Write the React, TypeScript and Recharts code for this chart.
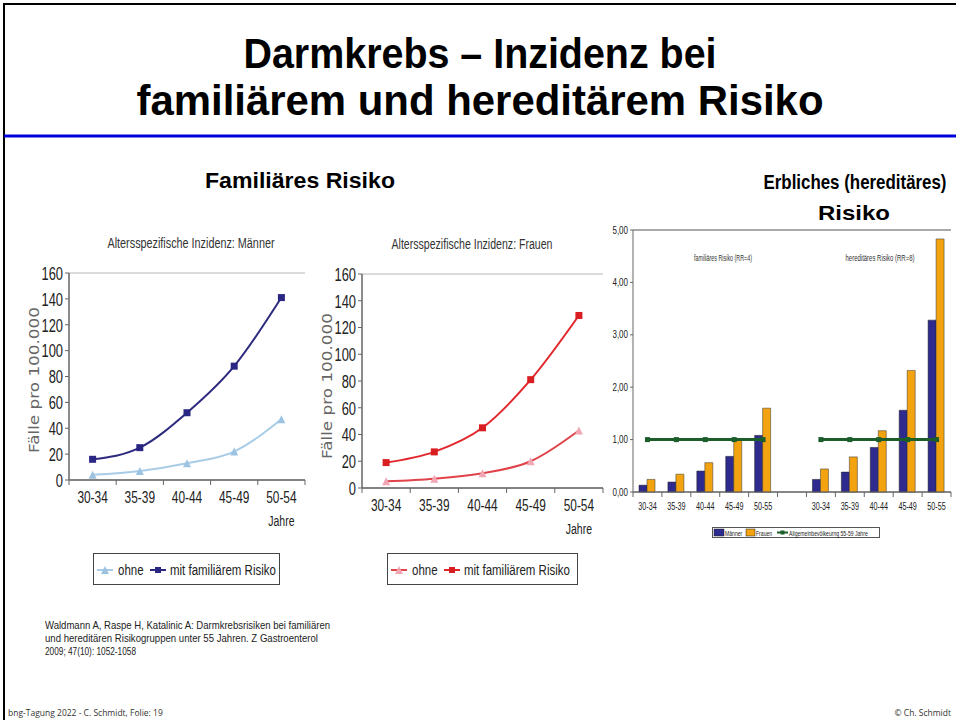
import React from "react";
import { ComposedChart, Line, Bar, XAxis, YAxis, CartesianGrid, Legend } from "recharts";

// Altersspezifische Inzidenz (Fälle pro 100.000)
const ageGroups = ["30-34", "35-39", "40-44", "45-49", "50-54"];
const menWithout = [4, 7, 13, 22, 47];
const menFamilial = [16, 25, 52, 88, 141];
const womenWithout = [5, 7, 11, 20, 43];
const womenFamilial = [19, 27, 45, 81, 129];
const incidenceTicks = [0, 20, 40, 60, 80, 100, 120, 140, 160];

// Erbliches Risiko: familiär (RR=4) | Lücke | hereditär (RR=8)
const riskGroups = ["30-34", "35-39", "40-44", "45-49", "50-55", "", "30-34", "35-39", "40-44", "45-49", "50-55"];
const riskMen = [0.13, 0.19, 0.4, 0.68, 1.08, null, 0.24, 0.38, 0.85, 1.56, 3.28];
const riskWomen = [0.24, 0.34, 0.56, 1.0, 1.6, null, 0.44, 0.67, 1.17, 2.32, 4.83];
const generalPopulation = [1, 1, 1, 1, 1, null, 1, 1, 1, 1, 1];
const riskTicks = [0, 1, 2, 3, 4, 5];

const menData = ageGroups.map((age, i) => ({ age, ohne: menWithout[i], mit: menFamilial[i] }));
const womenData = ageGroups.map((age, i) => ({ age, ohne: womenWithout[i], mit: womenFamilial[i] }));
const riskData = riskGroups.map((_, i) => ({
  slot: i,
  men: riskMen[i],
  women: riskWomen[i],
  allg: generalPopulation[i],
}));

const ARIAL = '"Liberation Sans", Arial, sans-serif';

// condensed text (the original uses a narrow Myriad-like face)
function NText({ x, y, sx = 0.7, children, ...rest }: any) {
  return (
    <text transform={`translate(${x},${y}) scale(${sx},1)`} fontFamily={ARIAL} {...rest}>
      {children}
    </text>
  );
}

const square = (color: string, size: number) => (p: any) =>
  p.cx == null || p.value == null || p.cy == null ? (
    <g key={`s-${p.index}`} />
  ) : (
    <rect key={`s-${p.index}`} x={p.cx - size / 2} y={p.cy - size / 2} width={size} height={size} fill={color} />
  );

const triangle = (color: string, size: number) => (p: any) =>
  p.cx == null || p.value == null ? (
    <g key={`t-${p.index}`} />
  ) : (
    <polygon
      key={`t-${p.index}`}
      points={`${p.cx},${p.cy - size / 2} ${p.cx - size / 2},${p.cy + size / 2} ${p.cx + size / 2},${p.cy + size / 2}`}
      fill={color}
    />
  );

function SlotTick(props: any) {
  const { x, y, payload, index, band, count, fontSize, sx, dy, labels, note, stroke } = props;
  const label = labels ? labels[payload.value] : payload.value;
  return (
    <g>
      <line x1={x - band / 2} y1={y} x2={x - band / 2} y2={y + 5} stroke={stroke} />
      {index === count - 1 && <line x1={x + band / 2} y1={y} x2={x + band / 2} y2={y + 5} stroke={stroke} />}
      <NText x={x} y={y + dy} sx={sx} textAnchor="middle" fontSize={fontSize} fill="#222">
        {label}
      </NText>
      {note && index === count - 1 && (
        <NText x={x} y={y + dy + 23} sx={sx} textAnchor="middle" fontSize={15} fill="#222">
          {note}
        </NText>
      )}
    </g>
  );
}

function YTick(props: any) {
  const { x, y, payload, fontSize, sx, format } = props;
  return (
    <NText x={x} y={y} sx={sx} dy="0.36em" textAnchor="end" fontSize={fontSize} fill="#222">
      {format ? format(payload.value) : payload.value}
    </NText>
  );
}

function LineLegend({ payload, markers, width }: any) {
  const order = ["ohne", "mit"];
  const items = [...(payload || [])].sort((a: any, b: any) => order.indexOf(a.dataKey) - order.indexOf(b.dataKey));
  const slots = [
    { lx: 4, tx: 25 },
    { lx: 57, tx: 77 },
  ];
  return (
    <svg width={width} height={32} style={{ display: "block" }}>
      <rect x={0.5} y={0.5} width={width - 1} height={31} fill="#fff" stroke="#444" />
      {items.map((it: any, i: number) => {
        const s = slots[i];
        const mc = it.payload.markerColor;
        const cx = s.lx + 8;
        return (
          <g key={it.dataKey}>
            <line x1={s.lx} y1={17} x2={s.lx + 16} y2={17} stroke={it.color} strokeWidth={2} />
            {markers[it.dataKey] === "tri" ? (
              <polygon points={`${cx},${13} ${cx - 4},${21} ${cx + 4},${21}`} fill={mc} />
            ) : (
              <rect x={cx - 3} y={14} width={6} height={6} fill={mc} />
            )}
            <NText x={s.tx} y={22} sx={0.82} fontSize={14} fill="#222">
              {it.value}
            </NText>
          </g>
        );
      })}
    </svg>
  );
}

function BarLegend({ payload }: any) {
  const order = ["men", "women", "allg"];
  const items = [...(payload || [])].sort((a: any, b: any) => order.indexOf(a.dataKey) - order.indexOf(b.dataKey));
  const slots = [
    { ix: 2, iw: 10, tx: 13 },
    { ix: 34, iw: 9, tx: 44 },
    { ix: 65, iw: 11, tx: 77 },
  ];
  return (
    <svg width={168} height={11} style={{ display: "block" }}>
      <rect x={0.5} y={0.5} width={167} height={10} fill="#fff" stroke="#555" />
      {items.map((it: any, i: number) => {
        const s = slots[i];
        return (
          <g key={it.dataKey}>
            {it.dataKey === "allg" ? (
              <>
                <line x1={s.ix} y1={5.5} x2={s.ix + s.iw} y2={5.5} stroke={it.color} strokeWidth={2} />
                <rect x={s.ix + s.iw / 2 - 2} y={3.5} width={4} height={4} fill={it.color} />
              </>
            ) : (
              <rect x={s.ix} y={2} width={s.iw} height={7} fill={it.color} stroke="#222" strokeWidth={0.5} />
            )}
            <NText x={s.tx} y={8.5} sx={0.68} fontSize={7.5} fill="#222">
              {it.value}
            </NText>
          </g>
        );
      })}
    </svg>
  );
}

interface IncidenceProps {
  data: any[];
  left: number;
  width: number;
  marginLeft: number;
  marginTop: number;
  marginRight: number;
  marginBottom: number;
  ohneLine: string;
  ohneMarker: string;
  mitLine: string;
  mitMarker: string;
  legendLeft: number;
  legendWidth: number;
}

function IncidenceChart(p: IncidenceProps) {
  const yAxisW = 40;
  const band = (p.width - p.marginLeft - yAxisW - p.marginRight) / ageGroups.length;
  const axisStroke = "#666";
  return (
    <div style={{ position: "absolute", left: p.left, top: 230 }}>
      <ComposedChart
        width={p.width}
        height={360}
        data={p.data}
        margin={{ top: p.marginTop, right: p.marginRight, left: p.marginLeft, bottom: p.marginBottom }}
      >
        <CartesianGrid vertical={false} stroke="#cfcfcf" strokeWidth={1.5} />
        <XAxis
          dataKey="age"
          height={30}
          padding={{ left: band / 2, right: band / 2 }}
          tickLine={false}
          tickSize={0}
          tickMargin={0}
          interval={0}
          axisLine={{ stroke: axisStroke, strokeWidth: 1.5 }}
          tick={(t: any) => (
            <SlotTick {...t} band={band} count={ageGroups.length} fontSize={17} sx={0.7} dy={23} note="Jahre" stroke={axisStroke} />
          )}
        />
        <YAxis
          yAxisId="l"
          width={yAxisW}
          domain={[0, 160]}
          ticks={incidenceTicks}
          interval={0}
          tickSize={4}
          tickMargin={2}
          axisLine={{ stroke: axisStroke, strokeWidth: 1.5 }}
          tickLine={{ stroke: axisStroke }}
          tick={(t: any) => <YTick {...t} fontSize={19} sx={0.68} />}
        />
        <YAxis
          yAxisId="r"
          orientation="right"
          width={0}
          domain={[0, 160]}
          tick={false}
          tickLine={false}
          axisLine={{ stroke: "#aaa", strokeWidth: 1.5 }}
        />
        <Legend
          layout="vertical"
          align="center"
          verticalAlign="middle"
          wrapperStyle={{ position: "absolute", left: p.legendLeft, top: 323, width: p.legendWidth }}
          content={(lp: any) => <LineLegend {...lp} width={p.legendWidth} markers={{ ohne: "tri", mit: "sq" }} />}
        />
        <Line
          yAxisId="l"
          dataKey="ohne"
          name="ohne"
          type="monotone"
          stroke={p.ohneLine}
          strokeWidth={2}
          dot={triangle(p.ohneMarker, 8)}
          activeDot={false}
          isAnimationActive={false}
          {...({ markerColor: p.ohneMarker } as any)}
        />
        <Line
          yAxisId="l"
          dataKey="mit"
          name="mit familiärem Risiko"
          type="monotone"
          stroke={p.mitLine}
          strokeWidth={2}
          dot={square(p.mitMarker, 7)}
          activeDot={false}
          isAnimationActive={false}
          {...({ markerColor: p.mitMarker } as any)}
        />
      </ComposedChart>
    </div>
  );
}

function RiskChart() {
  const width = 366;
  const margin = { top: 10, right: 5, left: 5, bottom: 38 };
  const yAxisW = 38;
  const band = (width - margin.left - margin.right - yAxisW) / riskGroups.length;
  return (
    <div style={{ position: "absolute", left: 590, top: 220 }}>
      <ComposedChart width={width} height={330} data={riskData} margin={margin} barGap={0} barCategoryGap={6}>
        <CartesianGrid vertical={false} stroke="#555" strokeWidth={1} />
        <XAxis
          dataKey="slot"
          height={20}
          tickLine={false}
          tickSize={0}
          tickMargin={0}
          interval={0}
          axisLine={{ stroke: "#666" }}
          tick={(t: any) => (
            <SlotTick {...t} band={band} count={riskGroups.length} fontSize={10} sx={0.72} dy={18} labels={riskGroups} stroke="#666" />
          )}
        />
        <YAxis
          yAxisId="l"
          width={yAxisW}
          domain={[0, 5]}
          ticks={riskTicks}
          interval={0}
          tickSize={3}
          tickMargin={2}
          axisLine={{ stroke: "#666" }}
          tickLine={{ stroke: "#666" }}
          tick={(t: any) => (
            <YTick {...t} fontSize={10} sx={0.8} format={(v: number) => v.toFixed(2).replace(".", ",")} />
          )}
        />
        <YAxis yAxisId="r" orientation="right" width={0} domain={[0, 5]} tick={false} tickLine={false} axisLine={{ stroke: "#888" }} />
        <Legend
          layout="vertical"
          align="center"
          verticalAlign="middle"
          wrapperStyle={{ position: "absolute", left: 122, top: 307, width: 168 }}
          content={(lp: any) => <BarLegend {...lp} />}
        />
        <Bar yAxisId="l" dataKey="men" name="Männer" fill="#2f2b8e" stroke="#1a1a1a" strokeWidth={0.5} isAnimationActive={false} />
        <Bar yAxisId="l" dataKey="women" name="Frauen" fill="#f2a30f" stroke="#333" strokeWidth={0.5} isAnimationActive={false} />
        <Line
          yAxisId="l"
          dataKey="allg"
          name="Allgemeinbevölkeurng 55-59 Jahre"
          stroke="#1b5e2b"
          strokeWidth={3}
          dot={square("#1b5e2b", 5)}
          activeDot={false}
          connectNulls={false}
          isAnimationActive={false}
        />
      </ComposedChart>
    </div>
  );
}

export default function App() {
  return (
    <div style={{ position: "absolute", left: 0, top: 0, width: 956, height: 720, background: "#fff", overflow: "hidden" }}>
      <svg width={956} height={720} style={{ position: "absolute", left: 0, top: 0 }}>
        <line x1={4} y1={3} x2={4} y2={720} stroke="#000" strokeWidth={2} />
        <line x1={3} y1={4} x2={956} y2={4} stroke="#000" strokeWidth={2} />
        <line x1={4} y1={136} x2={956} y2={136} stroke="#0000dd" strokeWidth={3} />
        <g fontFamily={ARIAL} fontWeight="bold" fill="#000" textAnchor="middle">
          <text x={480} y={68} fontSize={42} textLength={473} lengthAdjust="spacingAndGlyphs">
            Darmkrebs – Inzidenz bei
          </text>
          <text x={480} y={115} fontSize={42} textLength={687} lengthAdjust="spacingAndGlyphs">
            familiärem und hereditärem Risiko
          </text>
          <text x={300} y={188} fontSize={22} textLength={190} lengthAdjust="spacingAndGlyphs">
            Familiäres Risiko
          </text>
          <NText x={855} y={189} sx={0.845} fontSize={20}>
            Erbliches (hereditäres)
          </NText>
          <text x={854} y={220} fontSize={21} textLength={72} lengthAdjust="spacingAndGlyphs">
            Risiko
          </text>
        </g>
        <text x={191} y={248} textAnchor="middle" fontFamily={ARIAL} fontSize={14} fill="#333" textLength={167} lengthAdjust="spacingAndGlyphs">
          Altersspezifische Inzidenz: Männer
        </text>
        <text x={472} y={249} textAnchor="middle" fontFamily={ARIAL} fontSize={14} fill="#333" textLength={161} lengthAdjust="spacingAndGlyphs">
          Altersspezifische Inzidenz: Frauen
        </text>
        <text transform="translate(39,380) rotate(-90)" textAnchor="middle" fontFamily='"DejaVu Sans", sans-serif' fontSize={14} fill="#666" textLength={146} lengthAdjust="spacingAndGlyphs">
          Fälle pro 100.000
        </text>
        <text transform="translate(332,386) rotate(-90)" textAnchor="middle" fontFamily='"DejaVu Sans", sans-serif' fontSize={14} fill="#666" textLength={146} lengthAdjust="spacingAndGlyphs">
          Fälle pro 100.000
        </text>
        <text x={723} y={261} textAnchor="middle" fontFamily={ARIAL} fontSize={9} fill="#333" textLength={58} lengthAdjust="spacingAndGlyphs">
          familiäres Risiko (RR=4)
        </text>
        <text x={880} y={261} textAnchor="middle" fontFamily={ARIAL} fontSize={9} fill="#333" textLength={69} lengthAdjust="spacingAndGlyphs">
          hereditäres Risiko (RR=8)
        </text>
        <g fontFamily={ARIAL} fontSize={10.5} fill="#222">
          <text x={45} y={629} textLength={285} lengthAdjust="spacingAndGlyphs">
            Waldmann  A, Raspe H, Katalinic A: Darmkrebsrisiken bei familiären
          </text>
          <text x={45} y={642} textLength={273} lengthAdjust="spacingAndGlyphs">
            und hereditären Risikogruppen unter 55 Jahren. Z Gastroenterol
          </text>
          <text x={45} y={655} textLength={91} lengthAdjust="spacingAndGlyphs">
            2009; 47(10): 1052-1058
          </text>
        </g>
        <text x={8} y={716} fontFamily='"Open Sans", sans-serif' fontSize={8.5} fill="#333">
          bng-Tagung 2022 - C. Schmidt, Folie: 19
        </text>
        <text x={951} y={716} textAnchor="end" fontFamily='"Open Sans", sans-serif' fontSize={8.5} fill="#333">
          © Ch. Schmidt
        </text>
      </svg>
      <IncidenceChart
        data={menData}
        left={0}
        width={320}
        marginLeft={29}
        marginTop={43}
        marginRight={15}
        marginBottom={80}
        ohneLine="#a9cce6"
        ohneMarker="#9cc3e2"
        mitLine="#2d2a7e"
        mitMarker="#2a2784"
        legendLeft={93}
        legendWidth={187}
      />
      <IncidenceChart
        data={womenData}
        left={320}
        width={300}
        marginLeft={2}
        marginTop={44}
        marginRight={17}
        marginBottom={72}
        ohneLine="#e0434a"
        ohneMarker="#f2a6b4"
        mitLine="#e2262b"
        mitMarker="#d91e22"
        legendLeft={67}
        legendWidth={191}
      />
      <RiskChart />
    </div>
  );
}
